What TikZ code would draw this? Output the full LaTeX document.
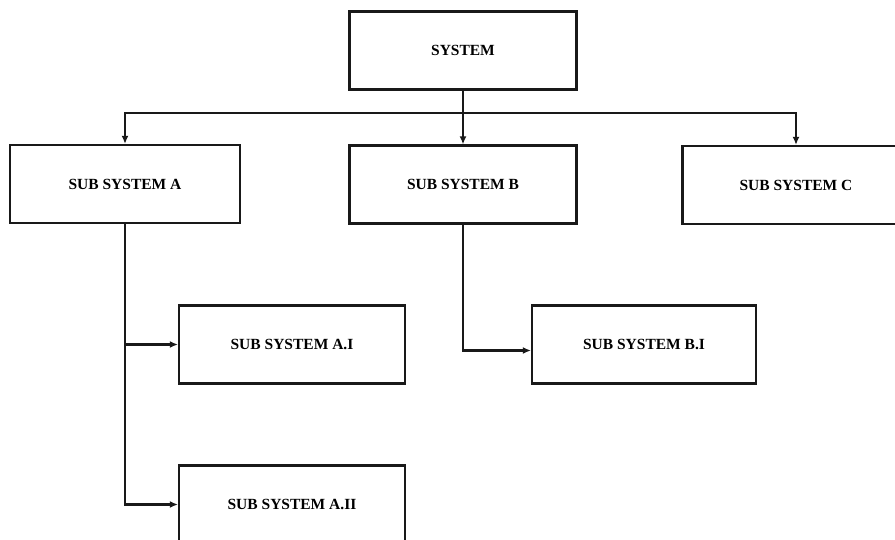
\documentclass[tikz,border=0pt]{standalone}
\usepackage{fontspec}
\setmainfont{Liberation Serif}
\usetikzlibrary{arrows.meta}
\begin{document}
\begin{tikzpicture}[x=1pt,y=-1pt,
  sysbox/.style={draw=black!90,line width=2.2pt,minimum width=227pt,minimum height=78pt,inner sep=0pt,
    font=\fontsize{15.5}{17}\selectfont\bfseries},
  conn/.style={draw=black!90,line width=2.2pt,-{Latex[length=8pt,width=7pt]}}]
\useasboundingbox (0,0) rectangle (895,540);
\clip (0,0) rectangle (895,540);
\fill[white] (0,0) rectangle (895,540);
\node[sysbox] (sys) at (463,50.5) {SYSTEM};
\node[sysbox,minimum width=230pt] (a) at (125,184) {SUB SYSTEM A};
\node[sysbox] (b) at (463,184.5) {SUB SYSTEM B};
\node[sysbox] (c) at (796,185) {SUB SYSTEM C};
\node[sysbox,minimum width=226pt] (ai) at (292,344.5) {SUB SYSTEM A.I};
\node[sysbox,minimum width=226pt] (aii) at (292,504.5) {SUB SYSTEM A.II};
\node[sysbox,minimum width=224pt] (bi) at (644,344.5) {SUB SYSTEM B.I};
\coordinate (j) at (463,113);
\draw[draw=black!90,line width=2.2pt] (sys.south) -- (j);
\draw[conn] (j) -- (b.north);
\draw[conn] (j) -| (a.north);
\draw[conn] (j) -| (c.north);
\draw[conn] (a.south) |- (ai.west);
\draw[conn] (a.south) |- (aii.west);
\draw[conn] (b.south) |- ([yshift=-6pt]bi.west);
\end{tikzpicture}
\end{document}
